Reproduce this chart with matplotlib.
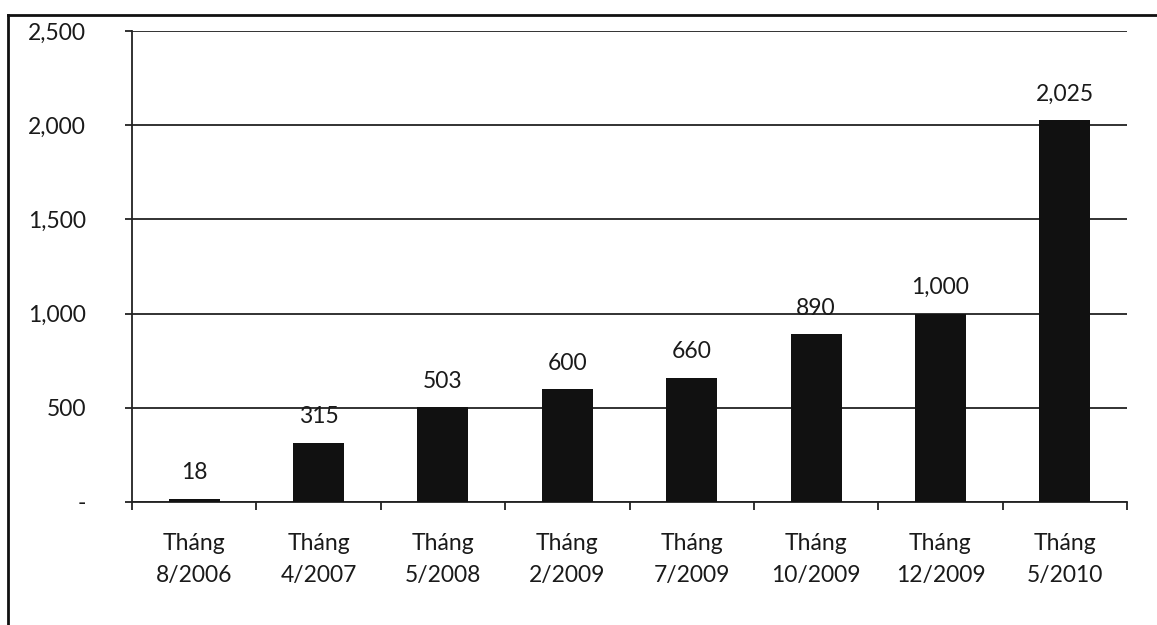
import matplotlib.pyplot as plt
from matplotlib.lines import Line2D

categories = ["Tháng\n8/2006", "Tháng\n4/2007", "Tháng\n5/2008", "Tháng\n2/2009",
              "Tháng\n7/2009", "Tháng\n10/2009", "Tháng\n12/2009", "Tháng\n5/2010"]
values = [18, 315, 503, 600, 660, 890, 1000, 2025]
value_labels = ["18", "315", "503", "600", "660", "890", "1,000", "2,025"]
yticks = [0, 500, 1000, 1500, 2000, 2500]
ytick_labels = ["-", "500", "1,000", "1,500", "2,000", "2,500"]

plt.rcParams['font.family'] = ['Lato', 'DejaVu Sans']
fs = 16.5

fig = plt.figure(figsize=(11.57, 6.25), dpi=100)
ax = fig.add_axes([0.1141, 0.1968, 0.8600, 0.7536])

x = list(range(len(categories)))
ax.bar(x, values, width=0.41, color='#111111', zorder=3)
for xi, v, lab in zip(x, values, value_labels):
    ax.annotate(lab, (xi, v), xytext=(0, 11), textcoords='offset points',
                ha='center', va='bottom', fontsize=fs, color='#1a1a1a')

ax.set_xlim(-0.5, len(categories) - 0.5)
ax.set_ylim(0, 2500)
ax.set_yticks(yticks)
ax.set_yticklabels(ytick_labels, fontsize=fs, color='#1a1a1a')
ax.set_xticks(x)
ax.set_xticklabels(categories, fontsize=fs, color='#1a1a1a', linespacing=1.65)
ax.set_xticks([i - 0.5 for i in range(len(categories) + 1)], minor=True)

ax.tick_params(axis='y', length=5, width=1.3, color='#222222', pad=28)
ax.tick_params(axis='x', which='major', length=0, pad=22)
ax.tick_params(axis='x', which='minor', length=6, width=1.3, color='#222222')

ax.yaxis.grid(True, color='#222222', linewidth=1.3, zorder=1)
for s in ['top', 'right']:
    ax.spines[s].set_visible(False)
for s in ['left', 'bottom']:
    ax.spines[s].set_color('#222222')
    ax.spines[s].set_linewidth(1.3)

# outer frame of the scanned chart
fig.add_artist(Line2D([8/1157, 8/1157], [0, 1 - 15/625], transform=fig.transFigure,
                      color='#111111', linewidth=2))
fig.add_artist(Line2D([8/1157, 1], [1 - 15/625, 1 - 15/625], transform=fig.transFigure,
                      color='#111111', linewidth=2))

fig.savefig('out.png', dpi=100)
